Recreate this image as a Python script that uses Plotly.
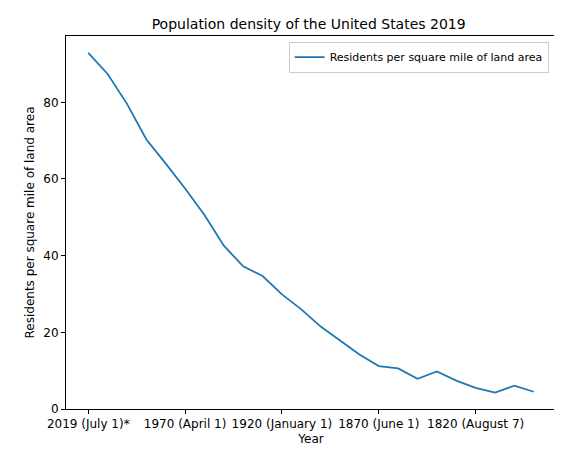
import plotly.graph_objects as go

years = ["2019 (July 1)*", "2010 (April 1)", "2000 (April 1)", "1990 (April 1)", "1980 (April 1)",
         "1970 (April 1)", "1960 (April 1)", "1950 (April 1)", "1940 (April 1)", "1930 (April 1)",
         "1920 (January 1)", "1910 (April 15)", "1900 (June 1)", "1890 (June 2)", "1880 (June 1)",
         "1870 (June 1)", "1860 (June 1)", "1850 (June 1)", "1840 (June 1)", "1830 (June 1)",
         "1820 (August 7)", "1810 (August 6)", "1800 (August 4)", "1790 (August 2)"]
density = [92.9, 87.4, 79.6, 70.3, 64.0, 57.5, 50.6, 42.6, 37.2, 34.7,
           29.9, 26.0, 21.5, 17.8, 14.2, 11.2, 10.6, 7.9, 9.8, 7.4,
           5.5, 4.3, 6.1, 4.5]

x = list(range(len(years)))
tick_idx = x[::5]

fig = go.Figure()
fig.add_trace(go.Scatter(x=x, y=density, mode="lines", line=dict(color="#1f77b4", width=1.8),
                         name="Residents per square mile of land area", showlegend=True))

axis = dict(showgrid=False, zeroline=False, showline=True, linecolor="black", linewidth=1,
            mirror=True, ticks="outside", ticklen=4, tickcolor="black", automargin=False,
            tickfont=dict(size=12, color="black"))
fig.update_layout(
    width=562, height=455,
    margin=dict(l=58, r=14, t=28, b=54),
    paper_bgcolor="white", plot_bgcolor="white",
    font=dict(family="DejaVu Sans", color="black"),
    title=dict(text="Population density of the United States 2019", x=0.535, xanchor="center",
               y=0.975, yanchor="top", font=dict(size=14)),
    xaxis=dict(axis, range=[-1.15, 24.15], tickvals=tick_idx, ticktext=[years[i] for i in tick_idx],
               title=dict(text="Year", font=dict(size=12), standoff=4)),
    yaxis=dict(axis, range=[0, 97.3], tickvals=[0, 20, 40, 60, 80],
               title=dict(text="Residents per square mile of land area", font=dict(size=12), standoff=6)),
    legend=dict(x=0.985, y=0.985, xanchor="right", yanchor="top", bordercolor="#cccccc",
                borderwidth=1, font=dict(size=11), itemwidth=30, tracegroupgap=0),
)
fig.write_html("out.html")
